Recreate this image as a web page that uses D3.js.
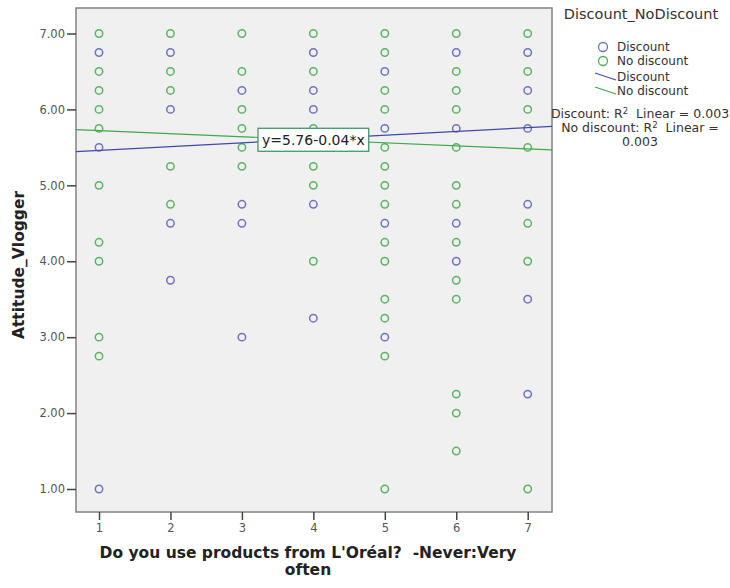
<!DOCTYPE html>
<html>
<head>
<meta charset="utf-8">
<script src="https://cdn.jsdelivr.net/npm/d3@7"></script>
<style>
  html, body { margin: 0; padding: 0; background: #ffffff; }
  svg { display: block; font-family: "DejaVu Sans", "Liberation Sans", sans-serif; }
  text { white-space: pre; }
</style>
</head>
<body>
<svg id="chart" width="730" height="588"></svg>
<script>
// Usage frequency (1 = Never … 7 = Very often) against attitude score, per group
const xTicks = [1, 2, 3, 4, 5, 6, 7];
const yTicks = [1, 2, 3, 4, 5, 6, 7];

const discountX = [1, 1, 1,
  2, 2, 2, 2,
  3, 3, 3, 3,
  4, 4, 4, 4, 4,
  5, 5, 5, 5,
  6, 6, 6, 6,
  7, 7, 7, 7, 7, 7];
const discountY = [6.75, 5.5, 1.0,
  6.75, 6.0, 4.5, 3.75,
  6.25, 4.75, 4.5, 3.0,
  6.75, 6.25, 6.0, 4.75, 3.25,
  6.5, 5.75, 4.5, 3.0,
  6.75, 5.75, 4.5, 4.0,
  6.75, 6.25, 5.75, 4.75, 3.5, 2.25];

const noDiscountX = [1, 1, 1, 1, 1, 1, 1, 1, 1, 1,
  2, 2, 2, 2, 2,
  3, 3, 3, 3, 3, 3,
  4, 4, 4, 4, 4, 4,
  5, 5, 5, 5, 5, 5, 5, 5, 5, 5, 5, 5, 5, 5,
  6, 6, 6, 6, 6, 6, 6, 6, 6, 6, 6, 6, 6,
  7, 7, 7, 7, 7, 7, 7];
const noDiscountY = [7.0, 6.5, 6.25, 6.0, 5.75, 5.0, 4.25, 4.0, 3.0, 2.75,
  7.0, 6.5, 6.25, 5.25, 4.75,
  7.0, 6.5, 6.0, 5.75, 5.5, 5.25,
  7.0, 6.5, 5.75, 5.25, 5.0, 4.0,
  7.0, 6.75, 6.25, 6.0, 5.5, 5.25, 5.0, 4.75, 4.25, 4.0, 3.5, 3.25, 2.75, 1.0,
  7.0, 6.5, 6.25, 6.0, 5.5, 5.0, 4.75, 4.25, 3.75, 3.5, 2.25, 2.0, 1.5,
  7.0, 6.5, 6.0, 5.5, 4.5, 4.0, 1.0];

// Linear fit lines: [intercept, slope]
const discountFit = [5.41, 0.05];
const noDiscountFit = [5.76, -0.04];

const groupNames = ["Discount", "No discount"];
const markerColors = ["#6f72c0", "#4aae52"];
const lineColors = ["#4248a6", "#3fa84c"];

const svg = d3.select("#chart");

const frame = { left: 76, right: 552, top: 8, bottom: 512 };

const x = d3.scaleLinear()
  .domain([0.678, 7.34])
  .range([frame.left, frame.right]);
const y = d3.scaleLinear()
  .domain([0.697, 7.336])
  .range([frame.bottom, frame.top]);

// plot area
svg.append("rect")
  .attr("x", frame.left).attr("y", frame.top)
  .attr("width", frame.right - frame.left)
  .attr("height", frame.bottom - frame.top)
  .attr("fill", "#f0f0f0")
  .attr("stroke", "#8a8a8a")
  .attr("stroke-width", 1.6);

svg.append("clipPath").attr("id", "plotClip")
  .append("rect")
  .attr("x", frame.left).attr("y", frame.top)
  .attr("width", frame.right - frame.left)
  .attr("height", frame.bottom - frame.top);

// axes
const yAxis = d3.axisLeft(y)
  .tickValues(yTicks)
  .tickFormat(d3.format(".2f"))
  .tickSize(9)
  .tickPadding(2);
const gy = svg.append("g")
  .attr("transform", `translate(${frame.left},0)`)
  .call(yAxis);
gy.select(".domain").remove();

const xAxis = d3.axisBottom(x)
  .tickValues(xTicks)
  .tickFormat(d3.format("d"))
  .tickSize(8)
  .tickPadding(4);
const gx = svg.append("g")
  .attr("transform", `translate(0,${frame.bottom})`)
  .call(xAxis);
gx.select(".domain").remove();

[gx, gy].forEach(g => {
  g.selectAll(".tick line").attr("stroke", "#444").attr("stroke-width", 1.5);
  g.selectAll(".tick text")
    .attr("fill", "#555")
    .style("font-size", "11.5px")
    .style("font-family", "'DejaVu Sans', sans-serif");
});

// points
const plot = svg.append("g").attr("clip-path", "url(#plotClip)");

const discountPts = discountX.map((d, i) => ({ x: d, y: discountY[i] }));
const noDiscountPts = noDiscountX.map((d, i) => ({ x: d, y: noDiscountY[i] }));

plot.append("g").selectAll("circle")
  .data(discountPts)
  .join("circle")
  .attr("cx", d => x(d.x))
  .attr("cy", d => y(d.y))
  .attr("r", 3.7)
  .attr("fill", "none")
  .attr("stroke", markerColors[0])
  .attr("stroke-width", 1.5);

plot.append("g").selectAll("circle")
  .data(noDiscountPts)
  .join("circle")
  .attr("cx", d => x(d.x))
  .attr("cy", d => y(d.y))
  .attr("r", 3.7)
  .attr("fill", "none")
  .attr("stroke", markerColors[1])
  .attr("stroke-opacity", 0.9)
  .attr("stroke-width", 1.5);

// fit lines
const xDom = x.domain();
const fitLine = d3.line().x(d => x(d[0])).y(d => y(d[1]));
[discountFit, noDiscountFit].forEach((f, i) => {
  const pts = xDom.map(v => [v, f[0] + f[1] * v]);
  plot.append("path")
    .attr("d", fitLine(pts))
    .attr("fill", "none")
    .attr("stroke", lineColors[i])
    .attr("stroke-width", 1.2);
});

// equation label on the No discount fit line
const eqX = 4;
const eqY = noDiscountFit[0] + noDiscountFit[1] * eqX;
const eqG = svg.append("g");
const eqText = eqG.append("text")
  .attr("x", x(eqX))
  .attr("y", y(eqY))
  .attr("dy", "0.35em")
  .attr("text-anchor", "middle")
  .style("font-size", "14px")
  .attr("fill", "#222")
  .text(`y=${noDiscountFit[0].toFixed(2)}-${Math.abs(noDiscountFit[1]).toFixed(2)}*x`);
const bb = eqText.node().getBBox();
eqG.insert("rect", "text")
  .attr("x", bb.x - 4).attr("y", y(eqY) - 11.5)
  .attr("width", bb.width + 8).attr("height", 23)
  .attr("fill", "#ffffff")
  .attr("stroke", "#3c9a6a")
  .attr("stroke-width", 1.3);

// axis titles
svg.append("text")
  .attr("transform", `translate(24,${(frame.top + frame.bottom) / 2 + 5}) rotate(-90)`)
  .attr("text-anchor", "middle")
  .style("font-size", "15.5px")
  .style("font-weight", "bold")
  .attr("fill", "#222")
  .text("Attitude_Vlogger");

const xTitle = svg.append("text")
  .attr("text-anchor", "middle")
  .style("font-size", "15.5px")
  .style("font-weight", "bold")
  .attr("fill", "#222");
xTitle.append("tspan").attr("x", 308).attr("y", 558)
  .text("Do you use products from L'Oréal?  -Never:Very");
xTitle.append("tspan").attr("x", 308).attr("y", 575).text("often");

// legend
const lg = svg.append("g");
lg.append("text")
  .attr("x", 641).attr("y", 19)
  .attr("text-anchor", "middle")
  .style("font-size", "14.5px")
  .attr("fill", "#333")
  .text("Discount_NoDiscount");

groupNames.forEach((name, i) => {
  const cy = 47 + i * 14;
  lg.append("circle")
    .attr("cx", 603).attr("cy", cy).attr("r", 4.5)
    .attr("fill", "none")
    .attr("stroke", markerColors[i])
    .attr("stroke-width", 1.3);
  lg.append("text")
    .attr("x", 617).attr("y", cy).attr("dy", "0.35em")
    .style("font-size", "12px")
    .attr("fill", "#333")
    .text(name);
});

groupNames.forEach((name, i) => {
  const cy = 77 + i * 14;
  lg.append("line")
    .attr("x1", 595).attr("y1", cy - 4)
    .attr("x2", 616).attr("y2", cy + 3)
    .attr("stroke", lineColors[i])
    .attr("stroke-width", 1.2);
  lg.append("text")
    .attr("x", 617).attr("y", cy).attr("dy", "0.35em")
    .style("font-size", "12px")
    .attr("fill", "#333")
    .text(name);
});

const r2Lines = [
  ["Discount: R", "  Linear = 0.003"],
  ["No discount: R", "  Linear ="],
  ["0.003", null]
];
r2Lines.forEach((parts, i) => {
  const t = lg.append("text")
    .attr("x", 640).attr("y", 118 + i * 14)
    .attr("text-anchor", "middle")
    .style("font-size", "12.5px")
    .attr("fill", "#333");
  t.append("tspan").text(parts[0]);
  if (parts[1] !== null) {
    t.append("tspan").attr("dy", -4).style("font-size", "8.5px").text("2");
    t.append("tspan").attr("dy", 4).text(parts[1]);
  }
});
</script>
</body>
</html>
